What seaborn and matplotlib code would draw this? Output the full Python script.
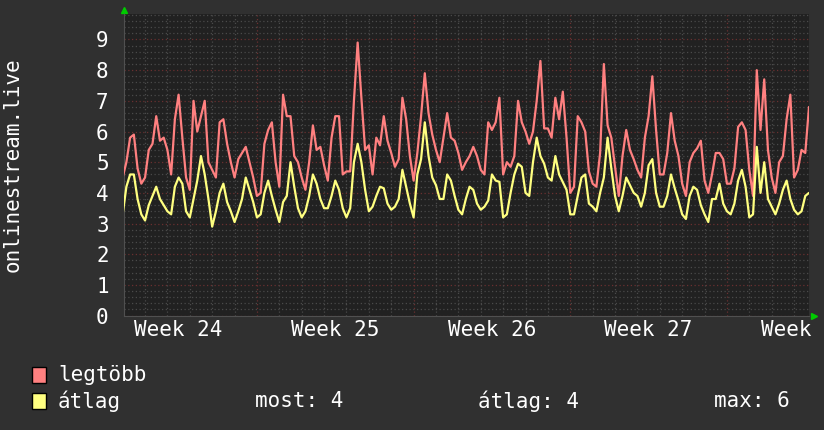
import numpy as np
import matplotlib
matplotlib.use('Agg')
import matplotlib.pyplot as plt
from matplotlib.patches import Rectangle
from matplotlib.ticker import MultipleLocator
import seaborn as sns

# 4 órás minták, kb. egy hónap (első minta a grafikon bal szélén)
legtobb = [
    4.5, 5.0, 5.8, 5.9, 4.8, 4.3, 4.5, 5.4, 5.6, 6.5, 5.7, 5.8,
    5.4, 4.6, 6.4, 7.2, 5.8, 4.5, 4.1, 7.0, 6.0, 6.5, 7.0, 5.0,
    4.75, 4.5, 6.3, 6.4, 5.6, 5.0, 4.5, 5.1, 5.3, 5.5, 5.0, 4.5,
    3.9, 4.0, 5.6, 6.05, 6.3, 5.0, 4.2, 7.2, 6.5, 6.5, 5.2, 5.0,
    4.5, 4.1, 5.0, 6.2, 5.4, 5.5, 4.9, 4.4, 5.8, 6.5, 6.5, 4.6,
    4.7, 4.7, 7.0, 8.9, 7.1, 5.4, 5.55, 4.6, 5.8, 5.55, 6.5, 5.7,
    5.3, 4.85, 5.1, 7.1, 6.4, 5.2, 4.4, 5.3, 6.5, 7.9, 6.6, 5.9,
    5.4, 5.0, 5.8, 6.6, 5.8, 5.7, 5.3, 4.75, 5.0, 5.2, 5.5, 5.2,
    4.75, 4.6, 6.3, 6.05, 6.3, 7.1, 4.6, 5.0, 4.85, 5.2, 7.0, 6.3,
    6.0, 5.6, 6.0, 7.0, 8.3, 6.1, 6.1, 5.8, 7.1, 6.4, 7.3, 5.8,
    4.0, 4.2, 6.5, 6.3, 6.0, 4.7, 4.3, 4.2, 5.3, 8.2, 6.2, 5.8,
    4.85, 3.9, 5.2, 6.05, 5.4, 5.1, 4.75, 4.5, 5.8, 6.5, 7.8, 6.05,
    4.6, 4.6, 5.3, 6.6, 5.7, 5.2, 4.3, 3.9, 5.0, 5.3, 5.45, 5.7,
    4.4, 4.0, 4.6, 5.3, 5.3, 5.1, 4.3, 4.3, 4.8, 6.15, 6.3, 6.05,
    4.75, 3.9, 8.0, 6.05, 7.7, 5.4, 4.5, 4.0, 5.0, 5.2, 6.4, 7.2,
    4.5, 4.75, 5.4, 5.3, 6.8,
]
atlag = [
    3.3, 4.2, 4.6, 4.6, 3.8, 3.3, 3.1, 3.6, 3.9, 4.2, 3.8, 3.6,
    3.4, 3.3, 4.2, 4.5, 4.3, 3.4, 3.2, 3.8, 4.4, 5.2, 4.6, 3.8,
    2.9, 3.4, 4.0, 4.3, 3.7, 3.4, 3.05, 3.4, 3.8, 4.5, 4.1, 3.7,
    3.2, 3.3, 4.0, 4.4, 3.9, 3.45, 3.05, 3.7, 3.9, 5.0, 4.2, 3.5,
    3.2, 3.4, 3.9, 4.6, 4.3, 3.8, 3.5, 3.5, 3.9, 4.4, 4.1, 3.5,
    3.2, 3.5, 5.0, 5.6, 5.0, 4.1, 3.4, 3.55, 3.9, 4.2, 4.15, 3.65,
    3.45, 3.55, 3.8, 4.75, 4.2, 3.65, 3.2, 4.6, 5.1, 6.3, 5.2, 4.5,
    4.25, 3.8, 3.8, 4.6, 4.4, 3.9, 3.45, 3.3, 3.8, 4.2, 4.1, 3.65,
    3.45, 3.55, 3.75, 4.6, 4.4, 4.36, 3.2, 3.3, 4.0, 4.6, 4.95, 4.85,
    4.0, 3.9, 5.0, 5.8, 5.2, 4.95, 4.5, 4.4, 5.2, 4.6, 4.35, 4.1,
    3.3, 3.3, 3.9, 4.5, 4.6, 3.65, 3.55, 3.4, 4.0, 4.5, 5.8, 4.8,
    3.9, 3.4, 3.9, 4.5, 4.25, 4.0, 3.9, 3.55, 4.0, 4.9, 5.1, 4.0,
    3.55, 3.55, 3.9, 4.6, 4.15, 3.75, 3.3, 3.15, 3.9, 4.2, 4.1, 3.6,
    3.3, 3.05, 3.8, 3.8, 4.3, 3.65, 3.4, 3.3, 3.65, 4.4, 4.75, 4.2,
    3.2, 3.3, 5.5, 4.0, 5.0, 3.8, 3.55, 3.3, 3.65, 4.1, 4.4, 3.8,
    3.45, 3.3, 3.4, 3.9, 4.0,
]
week_labels = ['Week 24', 'Week 25', 'Week 26', 'Week 27', 'Week 28']
week_centers = [2.5, 9.5, 16.5, 23.5, 30.5]   # napokban a bal széltől
week_starts = [6, 13, 20, 27]
y_ticks = list(range(10))
stats = ['most: 4', 'átlag: 4', 'max: 6']

napok = np.arange(len(legtobb)) / 6

# színek
bg = '#303030'
canvas = '#212121'
piros = '#ff8080'
sarga = '#ffff80'

sns.set_style('dark', {'axes.facecolor': canvas, 'figure.facecolor': bg})
plt.rcParams['font.family'] = ['DejaVu Sans Mono', 'DejaVu Sans']

fig = plt.figure(figsize=(8.24, 4.30), dpi=100, facecolor=bg)
ax = fig.add_axes([124 / 824, 1 - 315.6 / 430, 685 / 824, 301.6 / 430])
ax.set_facecolor(canvas)

# rács
for d in range(1, 31):
    col = '#6a3030' if d in week_starts else '#4a4a4a'
    ax.axvline(d, color=col, lw=0.9, ls=(0, (1, 2)), zorder=1)
ax.yaxis.set_major_locator(MultipleLocator(1))
ax.yaxis.set_minor_locator(MultipleLocator(0.2))
ax.grid(False)
ax.grid(True, which='minor', axis='y', color='#4a4a4a', lw=0.9, ls=(0, (1, 2)))
ax.grid(True, which='major', axis='y', color='#6a3030', lw=0.9, ls=(0, (1, 2)))
ax.set_axisbelow(True)

sns.lineplot(x=napok, y=legtobb, ax=ax, color=piros, lw=1.6, zorder=3)
sns.lineplot(x=napok, y=atlag, ax=ax, color=sarga, lw=1.6, zorder=4)

ax.set_xlim(0.06, napok[-1])
ax.set_ylim(0, 9.83)
ax.set_yticks(y_ticks)
ax.set_yticklabels([str(t) for t in y_ticks])
ax.set_xticks(week_centers)
ax.set_xticklabels(week_labels)
ax.tick_params(axis='y', which='both', length=0, pad=11, labelsize=15, colors='white')
ax.tick_params(axis='x', which='both', length=0, pad=3, labelsize=15, colors='white')
for s in ['top', 'right']:
    ax.spines[s].set_visible(False)
for s in ['left', 'bottom']:
    ax.spines[s].set_color('#505050')
    ax.spines[s].set_linewidth(0.8)

# zöld nyilak a tengelyek végén
ax.plot([0.06], [9.95], marker='^', color='#00cc00', ms=5, clip_on=False)
ax.plot([30.9], [0], marker='>', color='#00cc00', ms=5, clip_on=False)

fig.text(13 / 824, 1 - 165 / 430, 'onlinestream.live', rotation=90,
         ha='center', va='center', color='white', fontsize=15)

# jelmagyarázat
for row, (txt, col) in enumerate([('legtöbb', piros), ('átlag', sarga)]):
    yc = 375 + row * 26
    fig.add_artist(Rectangle((32 / 824, 1 - (yc + 8) / 430), 14 / 824, 16 / 430,
                             transform=fig.transFigure, fc=col, ec='black', lw=1))
    fig.text(58 / 824, 1 - yc / 430, txt, ha='left', va='center', color='white', fontsize=15)

for x0, txt in zip([255, 478, 714], stats):
    fig.text(x0 / 824, 1 - 401 / 430, txt, ha='left', va='center', color='white', fontsize=15)

fig.savefig('out.png', dpi=100, facecolor=bg)
